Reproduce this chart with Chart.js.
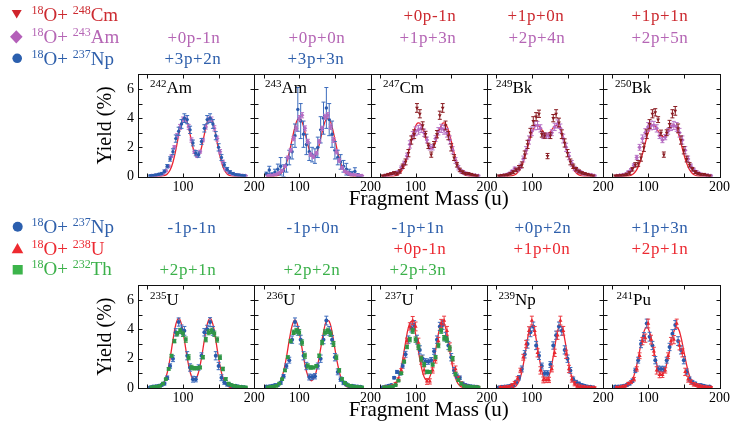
<!DOCTYPE html>
<html><head><meta charset="utf-8">
<script src="https://cdn.jsdelivr.net/npm/chart.js@4.4.1/dist/chart.umd.min.js"></script>
<style>
html,body{margin:0;padding:0;background:#fff;}
#wrap{position:relative;width:732px;height:432px;overflow:hidden;}
canvas{position:absolute;left:0;}
#overlay{position:absolute;left:0;top:0;font-family:'Liberation Serif','Times New Roman',serif;}
</style></head><body>
<div id="wrap">
<canvas id="rowTop" width="732" height="154" style="top:62px;width:732px;height:154px"></canvas>
<canvas id="rowBottom" width="732" height="154" style="top:273px;width:732px;height:154px"></canvas>
<svg id="overlay" width="732" height="432">
  <!-- top legend -->
  <polygon points="11.7,10 21.7,10 16.7,18.5" fill="#d0232b"/>
  <text x="31.5" y="20.8" fill="#cc2a30" font-size="19"><tspan font-size="12" dy="-7">18</tspan><tspan dy="7">O+&#160;</tspan><tspan font-size="12" dy="-7">248</tspan><tspan dy="7">Cm</tspan></text>
  <polygon points="16.3,30.2 22.6,36.8 16.3,43.4 10,36.8" fill="#b45fb9"/>
  <text x="31.5" y="43" fill="#b566b5" font-size="19"><tspan font-size="12" dy="-7">18</tspan><tspan dy="7">O+&#160;</tspan><tspan font-size="12" dy="-7">243</tspan><tspan dy="7">Am</tspan></text>
  <circle cx="17.2" cy="58.3" r="4.8" fill="#2b5fae"/>
  <text x="31.5" y="64.8" fill="#2e5fab" font-size="19"><tspan font-size="12" dy="-7">18</tspan><tspan dy="7">O+&#160;</tspan><tspan font-size="12" dy="-7">237</tspan><tspan dy="7">Np</tspan></text>
  <!-- top column labels -->
  <g font-size="17" text-anchor="middle" letter-spacing="0.6">
    <text x="194" y="42.7" fill="#b566b5">+0p-1n</text>
    <text x="193" y="64.3" fill="#2e5fab">+3p+2n</text>
    <text x="317" y="42.7" fill="#b566b5">+0p+0n</text>
    <text x="316" y="64.3" fill="#2e5fab">+3p+3n</text>
    <text x="430" y="21" fill="#cc2a30">+0p-1n</text>
    <text x="428" y="42.7" fill="#b566b5">+1p+3n</text>
    <text x="536" y="21" fill="#cc2a30">+1p+0n</text>
    <text x="537" y="42.7" fill="#b566b5">+2p+4n</text>
    <text x="660" y="21" fill="#cc2a30">+1p+1n</text>
    <text x="660" y="42.7" fill="#b566b5">+2p+5n</text>
  </g>
  <!-- bottom legend -->
  <circle cx="17.7" cy="226.7" r="5" fill="#2b5fae"/>
  <text x="31.5" y="233" fill="#2e5fab" font-size="19"><tspan font-size="12" dy="-7">18</tspan><tspan dy="7">O+&#160;</tspan><tspan font-size="12" dy="-7">237</tspan><tspan dy="7">Np</tspan></text>
  <polygon points="11.7,253.3 23.3,253.3 17.5,243" fill="#ee2a30"/>
  <text x="31.5" y="254.8" fill="#ec2a32" font-size="19"><tspan font-size="12" dy="-7">18</tspan><tspan dy="7">O+&#160;</tspan><tspan font-size="12" dy="-7">238</tspan><tspan dy="7">U</tspan></text>
  <rect x="12.7" y="265" width="10" height="9.5" fill="#3cb44b"/>
  <text x="31.5" y="275" fill="#3bb14a" font-size="19"><tspan font-size="12" dy="-7">18</tspan><tspan dy="7">O+&#160;</tspan><tspan font-size="12" dy="-7">232</tspan><tspan dy="7">Th</tspan></text>
  <g font-size="17" text-anchor="middle" letter-spacing="0.6">
    <text x="192" y="233" fill="#2e5fab">-1p-1n</text>
    <text x="188" y="274.5" fill="#3bb14a">+2p+1n</text>
    <text x="313" y="233" fill="#2e5fab">-1p+0n</text>
    <text x="312" y="274.5" fill="#3bb14a">+2p+2n</text>
    <text x="418" y="233" fill="#2e5fab">-1p+1n</text>
    <text x="420" y="254" fill="#ec2a32">+0p-1n</text>
    <text x="418" y="274.5" fill="#3bb14a">+2p+3n</text>
    <text x="543" y="233" fill="#2e5fab">+0p+2n</text>
    <text x="542" y="254" fill="#ec2a32">+1p+0n</text>
    <text x="660" y="233" fill="#2e5fab">+1p+3n</text>
    <text x="660" y="254" fill="#ec2a32">+2p+1n</text>
  </g>
  <!-- panel labels -->
  <g font-size="17" fill="#000">
    <text x="150" y="93"><tspan font-size="11" dy="-6">242</tspan><tspan dy="6">Am</tspan></text>
    <text x="265" y="93"><tspan font-size="11" dy="-6">243</tspan><tspan dy="6">Am</tspan></text>
    <text x="383" y="93"><tspan font-size="11" dy="-6">247</tspan><tspan dy="6">Cm</tspan></text>
    <text x="496" y="93"><tspan font-size="11" dy="-6">249</tspan><tspan dy="6">Bk</tspan></text>
    <text x="615" y="93"><tspan font-size="11" dy="-6">250</tspan><tspan dy="6">Bk</tspan></text>
    <text x="150" y="305"><tspan font-size="11" dy="-6">235</tspan><tspan dy="6">U</tspan></text>
    <text x="266.5" y="305"><tspan font-size="11" dy="-6">236</tspan><tspan dy="6">U</tspan></text>
    <text x="385" y="305"><tspan font-size="11" dy="-6">237</tspan><tspan dy="6">U</tspan></text>
    <text x="498.5" y="305"><tspan font-size="11" dy="-6">239</tspan><tspan dy="6">Np</tspan></text>
    <text x="616.5" y="305"><tspan font-size="11" dy="-6">241</tspan><tspan dy="6">Pu</tspan></text>
  </g>
</svg>
</div>
<script>
// ---------- axes ----------
const X_MIN = 37, X_MAX = 200;
const xTickMasses = [100, 200];
const xTickLabels = ['100', '200'];
const xMinorMasses = [50, 100, 150];
const yTickValues = [0, 2, 4, 6];
const yMinorTicks = [1, 2, 3, 4, 5, 6];
const Y_MIN = 0, Y_MAX = 7;
const X_TITLE = 'Fragment Mass (u)';
const Y_TITLE = 'Yield (%)';

// ---------- mass grids ----------
const massA = [54,58,62,66,70,74,78,82,86,90,94,98,102,106,110,114,118,122,126,130,134,138,142,146,150,154,158,162,166,170,174,178,182,186];
const massB = [56,60,64,68,72,76,80,84,88,92,96,100,104,108,112,116,120,124,128,132,136,140,144,148,152,156,160,164,168,172,176,180,184,188];

// ---------- error profiles ----------
const errMid  = [.05,.05,.06,.06,.08,.1,.12,.15,.2,.25,.28,.3,.3,.28,.25,.2,.18,.18,.2,.25,.28,.3,.3,.28,.25,.2,.15,.12,.1,.08,.06,.06,.05,.05];
const errLow  = [.03,.03,.03,.04,.05,.06,.08,.1,.12,.15,.17,.18,.18,.17,.15,.12,.1,.1,.12,.15,.17,.18,.18,.17,.15,.12,.1,.08,.06,.05,.04,.03,.03,.03];
const errWide = [.1,.25,.1,.2,.35,.6,.4,.5,.5,.5,.8,1.5,1.2,.9,.7,.6,.5,.5,.7,.9,1.1,1.4,1.1,.9,.6,.5,.5,.4,.4,.2,.15,.25,.1,.05];

// ---------- top row (fits on massA) ----------
const fit242Am = [0,0,0,.003,.014,.053,.17,.44,.98,1.82,2.84,3.71,4.05,3.72,2.89,1.99,1.42,1.42,1.99,2.89,3.72,4.05,3.71,2.84,1.82,.98,.44,.17,.053,.014,.003,0,0,0];
const np242Am  = [.05,.08,.1,.15,.2,.35,.7,1.2,1.7,2.6,3.1,3.6,4.0,3.9,3.2,2.3,1.6,1.5,2.4,3.3,3.9,4.0,3.6,2.8,2.0,1.3,.8,.5,.3,.2,.12,.1,.08,.05];
const am242Am  = [.05,.06,.08,.1,.2,.4,.7,1.4,2.0,2.8,3.4,3.9,3.9,3.4,2.5,1.7,1.4,1.7,2.5,3.4,3.9,3.9,3.3,2.6,1.7,1.0,.5,.3,.2,.12,.1,.08,.06,.05];

const fit243Am = [0,0,.006,.021,.068,.186,.444,.92,1.64,2.54,3.40,3.93,3.93,3.42,2.61,1.83,1.36,1.36,1.83,2.61,3.42,3.93,3.93,3.40,2.54,1.64,.92,.444,.186,.068,.021,.006,0,0];
const np243Am  = [.2,.45,.15,.3,.5,.7,.4,.8,1.3,1.7,2.8,4.6,3.8,2.9,2.2,1.7,1.5,1.4,2.0,3.2,4.0,4.7,3.9,2.9,1.8,1.3,1.0,.7,.5,.3,.2,.35,.1,.05];
const am243Am  = [.05,.08,.1,.15,.25,.4,.7,1.3,1.8,2.6,3.3,4.0,4.2,3.3,2.4,1.5,1.35,1.6,2.4,3.3,4.1,4.2,3.4,2.5,1.7,1.1,.6,.35,.25,.15,.12,.1,.08,.05];

const fit247Cm = [0,0,.003,.01,.031,.089,.225,.50,.96,1.64,2.44,3.17,3.63,3.65,3.26,2.66,2.13,1.93,2.13,2.66,3.26,3.65,3.63,3.17,2.44,1.64,.96,.50,.225,.089,.031,.01,.003,0];
const cm247Cm  = [.05,.1,.15,.2,.25,.2,.35,.7,1.0,1.6,2.5,2.9,4.7,4.3,3.5,2.9,2.1,1.5,2.2,2.9,4.2,4.7,3.5,2.8,2.0,1.3,.8,.45,.3,.2,.2,.15,.1,.05];
const am247Cm  = [.05,.1,.15,.2,.25,.3,.6,.9,1.4,2.2,2.8,3.1,3.2,3.3,3.0,2.5,2.0,2.0,2.6,3.1,3.3,3.2,3.0,2.5,1.8,1.1,.6,.35,.25,.2,.15,.1,.08,.05];

const fit249Bk = [0,0,.002,.008,.025,.07,.175,.38,.75,1.29,1.97,2.67,3.23,3.50,3.45,3.20,2.96,2.91,3.07,3.34,3.51,3.41,2.98,2.33,1.62,1.00,.54,.26,.11,.043,.015,.004,0,0];
const cm249Bk  = [.05,.08,.1,.12,.2,.3,.45,.6,.8,1.5,2.2,3.0,3.8,4.1,4.3,2.9,2.8,1.4,2.8,4.0,4.3,3.7,2.9,2.3,1.6,1.0,.7,.5,.35,.25,.2,.15,.1,.05];
const am249Bk  = [.05,.08,.12,.2,.35,.55,.45,.7,1.2,1.8,2.5,3.1,3.5,3.5,3.3,2.8,2.8,2.8,3.0,3.4,3.6,3.3,2.6,2.0,1.4,.9,.55,.4,.3,.2,.15,.12,.1,.05];

const fit250Bk = [0,0,.001,.004,.016,.05,.135,.32,.66,1.20,1.91,2.66,3.26,3.53,3.44,3.12,2.81,2.73,2.94,3.29,3.53,3.45,2.99,2.29,1.54,.90,.47,.21,.084,.029,.009,.002,0,0];
const cm250Bk  = [.05,.06,.08,.1,.15,.25,.5,.8,.9,1.3,2.0,2.9,3.6,4.3,4.4,3.9,3.0,1.5,3.0,3.6,4.3,4.5,3.3,2.5,1.8,1.2,.8,.5,.3,.2,.15,.15,.1,.05];
const am250Bk  = [.05,.08,.1,.15,.3,.45,.75,1.3,2.0,2.6,3.0,3.4,3.5,3.5,3.3,2.8,2.5,2.7,3.1,3.4,3.5,3.4,3.0,2.5,1.8,1.2,.7,.45,.3,.2,.12,.1,.08,.05];

// ---------- bottom row ----------
const fit235U = [0,.002,.011,.046,.159,.449,1.05,2.04,3.27,4.34,4.77,4.34,3.27,2.05,1.10,.61,.61,1.10,2.05,3.27,4.34,4.77,4.34,3.27,2.04,1.05,.449,.159,.046,.011,.002,0,0,0];
const np235U  = [.05,.1,.12,.15,.2,.3,.7,1.5,2.0,3.8,4.5,4.0,3.9,2.2,1.4,.6,.6,1.4,2.2,3.8,4.0,4.5,3.9,2.2,1.5,.7,.4,.25,.2,.15,.15,.1,.08,.05];
const th235U  = [.05,.08,.1,.15,.3,.6,1.3,2.2,3.2,3.7,3.9,3.7,3.3,2.1,1.4,1.35,1.35,1.4,2.1,3.3,3.8,3.9,3.7,3.3,2.1,1.3,.6,.3,.2,.15,.1,.08,.06,.05];

const fit236U = [0,.004,.016,.060,.191,.507,1.13,2.09,3.26,4.25,4.65,4.25,3.26,2.10,1.16,.62,.51,.83,1.59,2.68,3.81,4.55,4.55,3.81,2.67,1.57,.77,.32,.11,.032,.007,.002,0,0];
const np236U  = [.1,.12,.15,.2,.2,.35,.8,1.5,1.9,3.3,4.5,3.9,3.3,2.2,1.5,.75,.75,.8,1.5,2.0,3.3,4.6,3.9,3.3,2.1,1.1,.6,.35,.25,.15,.15,.12,.1,.08];
const th236U  = [.05,.08,.1,.15,.3,.6,1.2,2.1,3.2,3.8,3.9,3.8,3.1,2.2,1.5,1.4,1.4,1.5,2.2,3.1,3.8,3.9,3.7,3.0,2.1,1.2,.6,.35,.2,.15,.1,.08,.06,.05];

const fit237U = [0,.002,.011,.044,.152,.43,1.0,1.95,3.12,4.14,4.55,4.14,3.12,1.96,1.05,.58,.58,1.05,1.96,3.12,4.14,4.55,4.14,3.12,1.95,1.0,.43,.152,.044,.011,.002,0,0,0];
const np237U  = [.05,.1,.15,.2,.7,1.1,1.0,1.5,2.3,3.3,4.1,4.3,3.3,2.6,2.0,1.8,1.8,1.9,2.5,3.3,4.2,4.3,3.5,2.9,2.1,1.2,.8,.7,.3,.2,.15,.12,.1,.08];
const u237U   = [.05,.06,.1,.15,.3,.6,1.2,1.9,3.2,4.2,4.6,4.2,3.1,1.9,1.2,.45,.45,1.2,1.9,3.2,4.4,4.6,3.9,2.8,1.9,1.3,.65,.3,.15,.1,.08,.06,.05,.04];
const th237U  = [.05,.05,.08,.1,.2,.5,1.0,1.8,2.8,3.3,3.9,3.3,2.8,2.0,1.6,1.1,1.1,1.6,2.1,2.9,3.9,3.4,3.3,2.7,2.0,.95,.55,.3,.15,.1,.1,.08,.06,.05];

const fit239Np = [0,0,0,.001,.009,.040,.151,.456,1.11,2.15,3.35,4.18,4.18,3.35,2.16,1.15,.61,.61,1.15,2.16,3.35,4.18,4.18,3.35,2.15,1.11,.456,.151,.040,.009,.001,0,0,0];
const np239Np  = [.05,.08,.1,.12,.15,.2,.4,.7,1.3,2.3,3.0,3.8,4.2,2.9,2.2,1.5,1.0,1.0,1.6,2.9,3.6,4.2,3.9,2.6,2.0,1.2,.6,.4,.3,.2,.15,.1,.08,.05];
const u239Np   = [.05,.06,.08,.1,.2,.35,.65,1.2,2.1,3.0,3.9,4.6,3.9,2.4,1.2,.55,.55,.55,1.3,2.4,3.6,4.6,3.9,2.3,1.3,.6,.3,.15,.1,.08,.06,.05,.04,.03];

const fit241Pu = [0,.001,.006,.025,.082,.233,.56,1.15,2.02,3.01,3.83,4.15,3.83,3.03,2.07,1.29,.93,1.05,1.64,2.54,3.47,4.07,4.07,3.47,2.52,1.56,.82,.37,.141,.046,.013,.003,0,0];
const np241Pu  = [.1,.1,.12,.15,.2,.3,.5,1.2,1.9,3.0,3.5,4.4,3.5,2.9,1.9,1.3,1.3,1.3,1.9,2.8,3.7,4.3,3.2,2.6,1.9,1.1,.6,.4,.3,.2,.2,.15,.1,.1];
const u241Pu   = [.05,.06,.1,.15,.3,.4,.6,1.3,2.2,3.2,3.4,4.4,3.3,2.5,1.2,.9,.9,1.2,2.2,3.2,3.3,4.4,2.9,2.4,1.1,.6,.4,.25,.2,.15,.1,.08,.06,.05];

// ---------- styles ----------
const FIT_COLOR = '#ec2430';
const STYLE = {
  Cm:  {shape: 'triangle', rot: 180, r: 2.2, color: '#8a1c22', err: '#8a1c22'},
  Am:  {shape: 'rectRot', rot: 0, r: 2.3, color: '#b56cc2', err: '#b874c6'},
  NpT: {shape: 'circle', rot: 0, r: 1.7, color: '#2a5aad', err: '#3d6cbd'},
  Np:  {shape: 'circle', rot: 0, r: 2.0, color: '#2a5aad', err: '#3d6cbd'},
  U:   {shape: 'triangle', rot: 0, r: 2.4, color: '#e8262e', err: '#ec3a42'},
  Th:  {shape: 'rect', rot: 0, r: 2.6, color: '#2e9646', err: '#2e9646'}
};

const topPanels = [
  {fit: fit242Am, series: [[massA, np242Am, errMid, 'NpT'], [massB, am242Am, errLow, 'Am']]},
  {fit: fit243Am, series: [[massB, am243Am, errLow, 'Am'], [massA, np243Am, errWide, 'NpT']]},
  {fit: fit247Cm, series: [[massA, cm247Cm, errMid, 'Cm'], [massB, am247Cm, errMid, 'Am']]},
  {fit: fit249Bk, series: [[massA, cm249Bk, errMid, 'Cm'], [massB, am249Bk, errMid, 'Am']]},
  {fit: fit250Bk, series: [[massA, cm250Bk, errMid, 'Cm'], [massB, am250Bk, errMid, 'Am']]}
];
const bottomPanels = [
  {fit: fit235U, series: [[massB, th235U, errLow, 'Th'], [massA, np235U, errMid, 'Np']]},
  {fit: fit236U, series: [[massB, th236U, errLow, 'Th'], [massA, np236U, errMid, 'Np']]},
  {fit: fit237U, series: [[massB, th237U, errLow, 'Th'], [massB, u237U, errMid, 'U'], [massA, np237U, errMid, 'Np']]},
  {fit: fit239Np, series: [[massB, u239Np, errMid, 'U'], [massA, np239Np, errMid, 'Np']]},
  {fit: fit241Pu, series: [[massB, u241Pu, errMid, 'U'], [massA, np241Pu, errMid, 'Np']]}
];

// ---------- chart building ----------
const SPAN = X_MAX - X_MIN;
const FONT = "'Liberation Serif','Times New Roman',serif";
Chart.defaults.font.family = FONT;
Chart.defaults.font.weight = 'normal';
Chart.defaults.color = '#000';

const errorBarPlugin = {
  id: 'errorBars',
  beforeDatasetDraw(chart, args) {
    const ds = chart.data.datasets[args.index];
    if (!ds.errorColor) return;
    const {ctx, chartArea: a} = chart;
    const y = chart.scales.y;
    ctx.save();
    ctx.beginPath(); ctx.rect(a.left, a.top, a.right - a.left, a.bottom - a.top); ctx.clip();
    ctx.strokeStyle = ds.errorColor; ctx.lineWidth = 1;
    ctx.beginPath();
    args.meta.data.forEach((pt, i) => {
      const d = ds.data[i];
      const yt = y.getPixelForValue(d.y + d.e), yb = y.getPixelForValue(d.y - d.e);
      const px = pt.x;
      ctx.moveTo(px, yt); ctx.lineTo(px, yb);
      ctx.moveTo(px - 2, yt); ctx.lineTo(px + 2, yt);
      ctx.moveTo(px - 2, yb); ctx.lineTo(px + 2, yb);
    });
    ctx.stroke();
    ctx.restore();
  }
};

const framePlugin = {
  id: 'frames',
  afterDraw(chart) {
    const {ctx, chartArea: a, scales: {x, y}} = chart;
    const n = chart.options.plugins.frames.panels;
    const r = v => Math.round(v) + 0.5;
    const top = r(a.top), bot = r(a.bottom);
    ctx.save();
    ctx.strokeStyle = '#111'; ctx.lineWidth = 1;
    for (let i = 0; i < n; i++) {
      const x0 = r(x.getPixelForValue(i * SPAN)), x1 = r(x.getPixelForValue((i + 1) * SPAN));
      ctx.strokeRect(x0, top, x1 - x0, bot - top);
      ctx.beginPath();
      xMinorMasses.forEach(m => {
        const px = r(x.getPixelForValue(i * SPAN + m - X_MIN));
        ctx.moveTo(px, bot); ctx.lineTo(px, bot - 4);
        ctx.moveTo(px, top); ctx.lineTo(px, top + 4);
      });
      yMinorTicks.forEach(v => {
        const py = r(y.getPixelForValue(v));
        ctx.moveTo(x0, py); ctx.lineTo(x0 + 4, py);
        ctx.moveTo(x1, py); ctx.lineTo(x1 - 4, py);
      });
      ctx.stroke();
    }
    ctx.restore();
  }
};

function buildRow(canvasId, panels, padTop, xAxisH) {
  const datasets = [];
  panels.forEach((p, i) => {
    p.series.forEach(([masses, vals, errs, key]) => {
      const st = STYLE[key];
      datasets.push({
        data: masses.map((m, k) => ({x: i * SPAN + m - X_MIN, y: vals[k], e: errs[k]})),
        showLine: false,
        pointStyle: st.shape, pointRotation: st.rot, pointRadius: st.r,
        pointBackgroundColor: st.color, pointBorderColor: st.color, pointBorderWidth: 0,
        errorColor: st.err, order: 0
      });
    });
    datasets.push({
      data: massA.map((m, k) => ({x: i * SPAN + m - X_MIN, y: p.fit[k]})),
      showLine: true, borderColor: FIT_COLOR, borderWidth: 1.3, pointRadius: 0,
      tension: 0.4, fill: false, order: 1
    });
  });
  const xTicks = [], xLabels = [];
  panels.forEach((p, i) => {
    xTickMasses.forEach((m, j) => { xTicks.push(i * SPAN + m - X_MIN); xLabels.push(xTickLabels[j]); });
  });
  return new Chart(document.getElementById(canvasId), {
    type: 'scatter',
    data: {datasets},
    options: {
      responsive: false, animation: false, devicePixelRatio: 1,
      layout: {padding: {top: padTop, right: 11, left: 0, bottom: 0}},
      plugins: {legend: {display: false}, tooltip: {enabled: false}, frames: {panels: panels.length}},
      scales: {
        x: {
          type: 'linear', min: 0, max: panels.length * SPAN,
          grid: {display: false, drawTicks: false}, border: {display: false},
          afterBuildTicks: s => { s.ticks = xTicks.map(v => ({value: v})); },
          afterFit: s => { s.height = xAxisH; },
          ticks: {autoSkip: false, maxRotation: 0, padding: 2, font: {size: 14, weight: 'normal'}, color: '#000',
                  callback: (v, idx) => xLabels[idx]},
          title: {display: true, text: X_TITLE, font: {size: 21, weight: 'normal'}, color: '#000', padding: {top: 0, bottom: 4}}
        },
        y: {
          type: 'linear', min: Y_MIN, max: Y_MAX,
          grid: {display: false, drawTicks: false}, border: {display: false},
          afterBuildTicks: s => { s.ticks = yTickValues.map(v => ({value: v})); },
          afterFit: s => { s.width = 138; },
          ticks: {padding: 4, font: {size: 14, weight: 'normal'}, color: '#000'},
          title: {display: true, text: Y_TITLE, font: {size: 20, weight: 'normal'}, color: '#000', padding: {top: 94, bottom: 0}}
        }
      }
    },
    plugins: [errorBarPlugin, framePlugin]
  });
}

buildRow('rowTop', topPanels, 10, 39.5);
buildRow('rowBottom', bottomPanels, 10.5, 39);
</script>
</body></html>
